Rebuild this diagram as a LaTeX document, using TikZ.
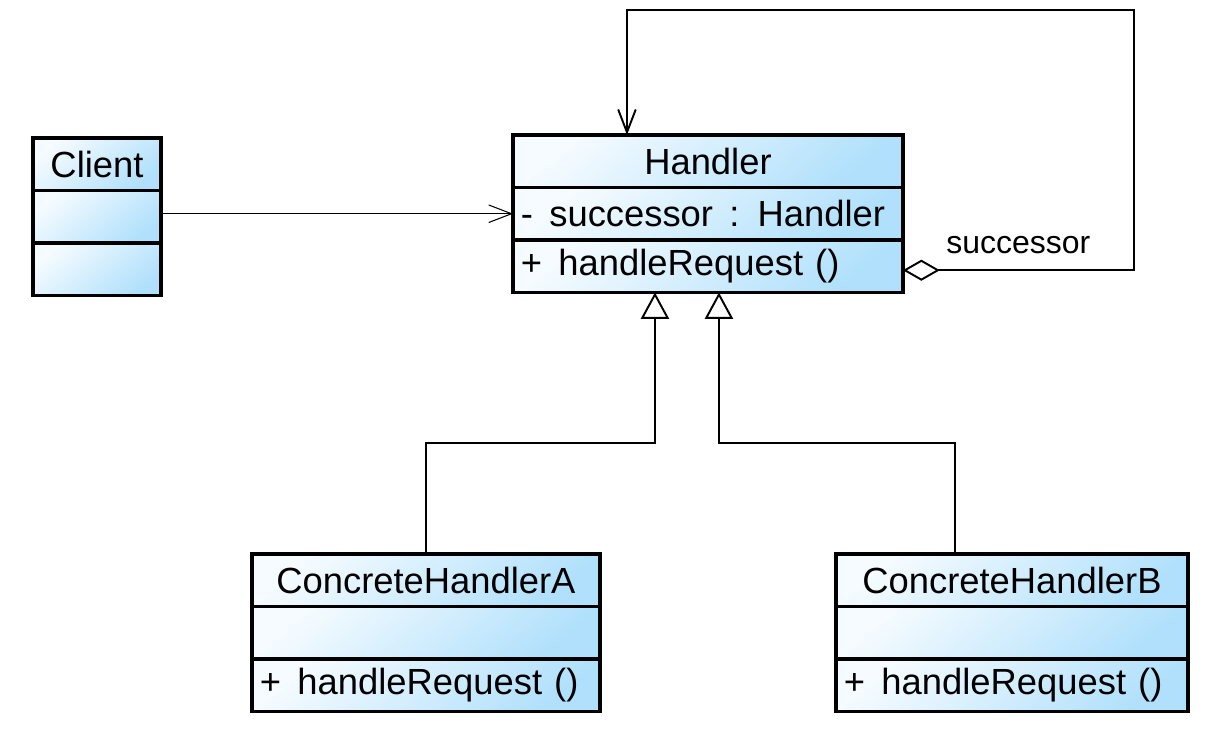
\documentclass[tikz,border=0pt]{standalone}
\usepackage{fontspec}
\setmainfont{Liberation Sans}
\usetikzlibrary{positioning,arrows.meta,calc}
\definecolor{umlblue}{RGB}{176,224,252}

\begin{document}
\begin{tikzpicture}[x=0.02cm,y=0.02cm,font=\fontsize{20.7}{24}\selectfont,
  cell/.style={draw,line width=1.8pt,inner sep=0pt,outer sep=0pt,minimum height=1.05cm,
    top color=umlblue!12,bottom color=umlblue,shading angle=40},
  ttl/.style={cell,minimum width=#1,anchor=north west},
  mem/.style={cell,minimum width=#1,text width=#1-9pt,inner xsep=4.5pt,align=left},
  dep/.style={-{Straight Barb[length=13pt,width=10pt]},line width=0.6pt},
  gen/.style={-{Triangle[open,length=15pt,width=16pt]},line width=1.1pt},
  agg/.style={{Diamond[open,length=21pt,width=12pt]}-{Straight Barb[length=13pt,width=10pt]},line width=1.1pt},
  lbl/.style={font=\fontsize{18.2}{21}\selectfont,inner sep=0pt}]
\path[fill=white] (0,0) rectangle (1225,-747);
% classes
\node[ttl=2.56cm] (cli) at (33,-138) {Client};
\node[cell,minimum width=2.56cm,below=0pt of cli] (cli-a) {};
\node[cell,minimum width=2.56cm,below=0pt of cli-a] (cli-o) {};
\node[ttl=7.8cm] (hdl) at (513,-135) {Handler};
\node[mem=7.8cm,below=0pt of hdl] (hdl-a) {-\hspace{0.45em}successor\hspace{0.45em}: Handler};
\node[mem=7.8cm,below=0pt of hdl-a] (hdl-o) {+\hspace{0.45em}handleRequest ()};
\node[ttl=6.96cm] (cha) at (252,-554) {ConcreteHandlerA};
\node[mem=6.96cm,below=0pt of cha] (cha-a) {};
\node[mem=6.96cm,below=0pt of cha-a] (cha-o) {+\hspace{0.45em}handleRequest ()};
\node[ttl=7.04cm] (chb) at (836,-554) {ConcreteHandlerB};
\node[mem=7.04cm,below=0pt of chb] (chb-a) {};
\node[mem=7.04cm,below=0pt of chb-a] (chb-o) {+\hspace{0.45em}handleRequest ()};
% relations
\draw[dep] (hdl-a.west -| cli-a.east) -- (hdl-a.west);
\draw[gen] (cha.north) -- ++(0,111) -| ($(hdl-o.south)+(-53,0)$);
\draw[gen] ($(chb.north)+(-57,0)$) -- ++(0,111) -| ($(hdl-o.south)+(11,0)$);
\draw[agg] ($(hdl-o.east)+(0,-4)$) -- node[lbl,anchor=base,yshift=9.6pt]{successor} ++(231,0)
  |- ($(hdl.north)+(-81,125)$) -- ($(hdl.north)+(-81,0)$);
\end{tikzpicture}
\end{document}
